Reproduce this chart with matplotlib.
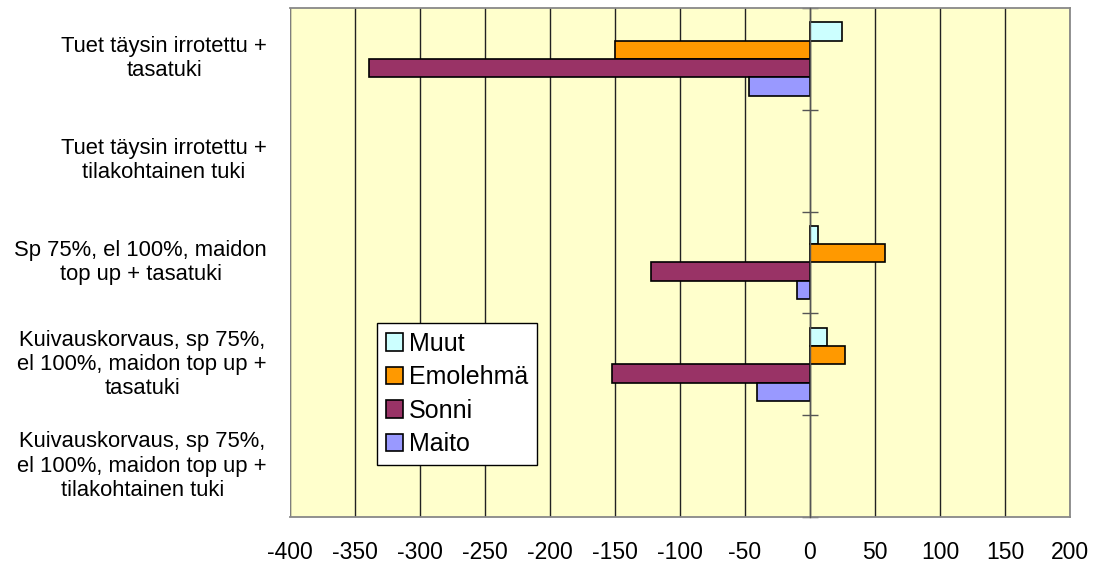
import matplotlib
matplotlib.use("Agg")
import matplotlib.pyplot as plt
import matplotlib.transforms as mtransforms
import numpy as np

plt.rcParams['font.family'] = ['Liberation Sans', 'DejaVu Sans']

categories = [
    "Tuet täysin irrotettu +\ntasatuki",
    "Tuet täysin irrotettu +\ntilakohtainen tuki",
    "Sp 75%, el 100%, maidon\ntop up + tasatuki",
    "Kuivauskorvaus, sp 75%,\nel 100%, maidon top up +\ntasatuki",
    "Kuivauskorvaus, sp 75%,\nel 100%, maidon top up +\ntilakohtainen tuki",
]
series_names = ["Muut", "Emolehmä", "Sonni", "Maito"]
# categories without results are left empty (nan)
muut = [25, np.nan, 6, 13, np.nan]
emolehma = [-150, np.nan, 58, 27, np.nan]
sonni = [-339, np.nan, -122, -152, np.nan]
maito = [-47, np.nan, -10, -41, np.nan]
series_values = [muut, emolehma, sonni, maito]
colors = ["#CCFFFF", "#FF9900", "#993366", "#9999FF"]
x_ticks = [-400, -350, -300, -250, -200, -150, -100, -50, 0, 50, 100, 150, 200]

fig = plt.figure(figsize=(10.98, 5.67), dpi=100)
ax = fig.add_axes([0.2641, 0.0882, 0.7104, 0.8977])
ax.set_facecolor("#FFFFCC")

y = np.arange(len(categories))
h = 0.18
offsets = [-1.5 * h, -0.5 * h, 0.5 * h, 1.5 * h]
for name, vals, col, off in zip(series_names, series_values, colors, offsets):
    ax.barh(y + off, vals, height=h, color=col, edgecolor="black",
            linewidth=1.2, label=name, zorder=3)

ax.set_xlim(-400, 200)
ax.set_ylim(len(categories) - 0.5, -0.5)
ax.set_xticks(x_ticks)
ax.set_xticklabels([str(v) for v in x_ticks], fontsize=16.5)
ax.tick_params(axis="x", length=0, pad=17)
ax.xaxis.grid(True, color="#222222", linewidth=1.0, zorder=1)
ax.set_axisbelow(True)

# value axis crossing at zero with category boundary ticks
ax.spines["left"].set_position(("data", 0))
ax.spines["left"].set_color("#555555")
ax.spines["left"].set_linewidth(1.0)
ax.spines["left"].set_zorder(4)
ax.set_yticks(np.arange(len(categories) + 1) - 0.5)
ax.set_yticklabels([])
ax.tick_params(axis="y", direction="inout", length=12, width=1.0, color="#555555")

for s in ["top", "right", "bottom"]:
    ax.spines[s].set_color("#888888")
    ax.spines[s].set_linewidth(1.3)
ax.axvline(-400, color="#888888", linewidth=1.3, zorder=2)

# category labels on the left
trans = mtransforms.blended_transform_factory(fig.transFigure, ax.transData)
for yi, lab in zip(y, categories):
    ax.text(267 / 1098, yi, lab, transform=trans, ha="right", va="center",
            multialignment="center", fontsize=15.8, linespacing=1.2)

leg = ax.legend(loc="lower left", bbox_to_anchor=(0.1115, 0.102),
                borderaxespad=0, fontsize=18, frameon=True, fancybox=False,
                edgecolor="black", framealpha=1, handlelength=0.68,
                handleheight=0.68, handletextpad=0.25, labelspacing=0.38,
                borderpad=0.35)
leg.get_frame().set_linewidth(1.0)
for p in leg.get_patches():
    p.set_linewidth(1.2)

fig.savefig("out.png", dpi=100)
